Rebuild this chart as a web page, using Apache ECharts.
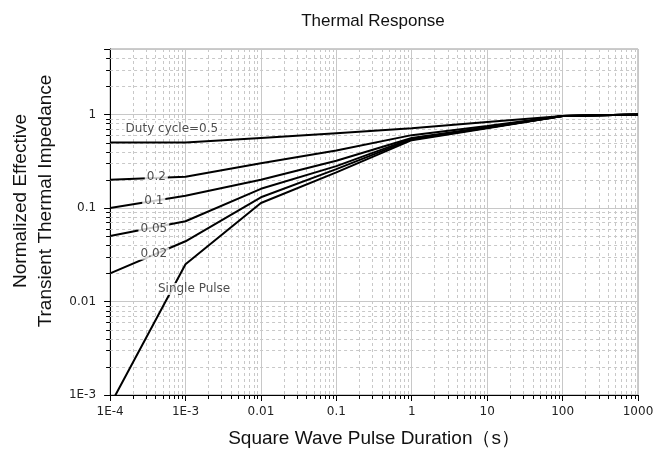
<!DOCTYPE html>
<html>
<head>
<meta charset="utf-8">
<script src="https://cdn.jsdelivr.net/npm/echarts@6/dist/echarts.min.js"></script>
<style>
  html, body { margin: 0; padding: 0; background: #fff; }
  #chart { width: 670px; height: 459px; }
</style>
</head>
<body>
<div id="chart"></div>
<script>
// pulse duration (s) at which each curve was read
let pulseTimes = [1e-4, 1e-3, 0.01, 0.1, 1, 10, 100, 1000];

let duty05 = [0.5, 0.5, 0.56, 0.63, 0.71, 0.83, 0.96, 1.0];
let duty02 = [0.2, 0.215, 0.30, 0.41, 0.60, 0.75, 0.96, 1.0];
let duty01 = [0.1, 0.135, 0.20, 0.32, 0.56, 0.73, 0.96, 1.0];
let duty005 = [0.05, 0.072, 0.16, 0.28, 0.55, 0.72, 0.96, 1.0];
let duty002 = [0.02, 0.044, 0.13, 0.26, 0.54, 0.72, 0.96, 1.0];
let singlePulse = [0.00078, 0.025, 0.113, 0.24, 0.53, 0.71, 0.96, 1.0];

let xTickLabels = ['1E-4', '1E-3', '0.01', '0.1', '1', '10', '100', '1000'];
let yTickLabels = ['1E-3', '0.01', '0.1', '1'];

// curve labels: [x, y, text]
let curveLabels = [
    [6.6e-4, 0.70, 'Duty cycle=0.5'],
    [4.1e-4, 0.215, '0.2'],
    [3.8e-4, 0.118, '0.1'],
    [3.8e-4, 0.0596, '0.05'],
    [3.8e-4, 0.0324, '0.02'],
    [1.3e-3, 0.0136, 'Single Pulse']
];

const font = '"Liberation Sans", Arial, sans-serif';
const smallFont = '"DejaVu Sans", Verdana, sans-serif';

// minor log positions (2..9 of each decade)
function minorValues(fromExp, toExp, maxVal) {
    let out = [];
    for (let e = fromExp; e < toExp; e++) {
        for (let k = 2; k <= 9; k++) {
            let v = k * Math.pow(10, e);
            if (v < maxVal) out.push(v);
        }
    }
    return out;
}
let xMinor = minorValues(-4, 3, 1000);
let yMinor = minorValues(-3, 1, 5.0001);

function decadeLabel(labels, firstExp) {
    return function (v) {
        let e = Math.log10(v);
        let r = Math.round(e);
        if (Math.abs(e - r) > 1e-6) return '';
        return labels[r - firstExp] || '';
    };
}

function pairs(values) {
    return pulseTimes.map((t, i) => [t, values[i]]);
}

function curve(name, values) {
    return {
        name: name,
        type: 'line',
        data: pairs(values),
        showSymbol: false,
        symbol: 'none',
        lineStyle: { color: '#000', width: 2 },
        z: 3,
        silent: true
    };
}

let gridLineColor = '#c8c8c8';

let option = {
    animation: false,
    title: {
        text: 'Thermal Response',
        left: 368,
        top: 8,
        textAlign: 'center',
        textStyle: { fontFamily: font, fontSize: 17, fontWeight: 'normal', color: '#111' }
    },
    grid: {
        left: 106, right: 32, top: 49, bottom: 64,
        show: true, borderColor: '#999', borderWidth: 1, backgroundColor: '#fff'
    },
    xAxis: {
        type: 'log',
        logBase: 10,
        min: 1e-4,
        max: 1000,
        interval: 1,
        name: 'Square Wave Pulse Duration（s）',
        nameLocation: 'middle',
        nameGap: 34,
        nameTextStyle: { fontFamily: font, fontSize: 19, color: '#111' },
        axisLine: { lineStyle: { color: '#000', width: 1 } },
        axisTick: { length: 6, lineStyle: { color: '#000' } },
        axisLabel: {
            fontFamily: smallFont, fontSize: 12, color: '#222', margin: 11,
            formatter: decadeLabel(xTickLabels, -4)
        },
        splitLine: { show: true, lineStyle: { color: gridLineColor, width: 1 } }
    },
    yAxis: {
        type: 'log',
        logBase: 10,
        min: 1e-3,
        max: 5,
        interval: 1,
        name: 'Normalized Effective\nTransient Thermal Impedance',
        nameLocation: 'middle',
        nameGap: 50,
        nameRotate: 90,
        nameTextStyle: {
            fontFamily: font, fontSize: 19, color: '#111', lineHeight: 25,
            padding: [0, 0, 0, 42]
        },
        axisLine: { lineStyle: { color: '#000', width: 1 } },
        axisTick: { length: 6, lineStyle: { color: '#000' } },
        axisLabel: {
            fontFamily: smallFont, fontSize: 12, color: '#222', margin: 14,
            formatter: decadeLabel(yTickLabels, -3)
        },
        splitLine: { show: true, lineStyle: { color: gridLineColor, width: 1 } }
    },
    series: [
        {
            // minor vertical grid + x minor ticks
            type: 'custom',
            silent: true,
            z: 1,
            data: xMinor.map(v => [v, 1]),
            renderItem: function (params, api) {
                let cs = params.coordSys;
                let x = Math.round(api.coord([api.value(0), 1])[0]) + 0.5;
                let bottom = cs.y + cs.height;
                return {
                    type: 'group',
                    children: [
                        { type: 'line', shape: { x1: x, y1: cs.y, x2: x, y2: bottom },
                          style: { stroke: gridLineColor, lineWidth: 1, lineDash: [3, 3] } },
                        { type: 'line', shape: { x1: x, y1: bottom, x2: x, y2: bottom + 4 },
                          style: { stroke: '#000', lineWidth: 1 } }
                    ]
                };
            }
        },
        {
            // minor horizontal grid + y minor ticks
            type: 'custom',
            silent: true,
            z: 1,
            data: yMinor.map(v => [1, v]),
            renderItem: function (params, api) {
                let cs = params.coordSys;
                let y = Math.round(api.coord([1, api.value(1)])[1]) + 0.5;
                return {
                    type: 'group',
                    children: [
                        { type: 'line', shape: { x1: cs.x, y1: y, x2: cs.x + cs.width, y2: y },
                          style: { stroke: gridLineColor, lineWidth: 1, lineDash: [3, 3] } },
                        { type: 'line', shape: { x1: cs.x - 4, y1: y, x2: cs.x, y2: y },
                          style: { stroke: '#000', lineWidth: 1 } }
                    ]
                };
            }
        },
        curve('0.5', duty05),
        curve('0.2', duty02),
        curve('0.1', duty01),
        curve('0.05', duty005),
        curve('0.02', duty002),
        curve('Single Pulse', singlePulse),
        {
            type: 'scatter',
            silent: true,
            z: 5,
            symbolSize: 1,
            itemStyle: { color: 'transparent' },
            data: curveLabels,
            label: {
                show: true,
                position: 'inside',
                formatter: p => p.value[2],
                fontFamily: smallFont,
                fontSize: 12,
                color: '#222',
                backgroundColor: '#fff',
                padding: [0, 2]
            }
        }
    ]
};

let chart = echarts.init(document.getElementById('chart'));
chart.setOption(option);
</script>
</body>
</html>
